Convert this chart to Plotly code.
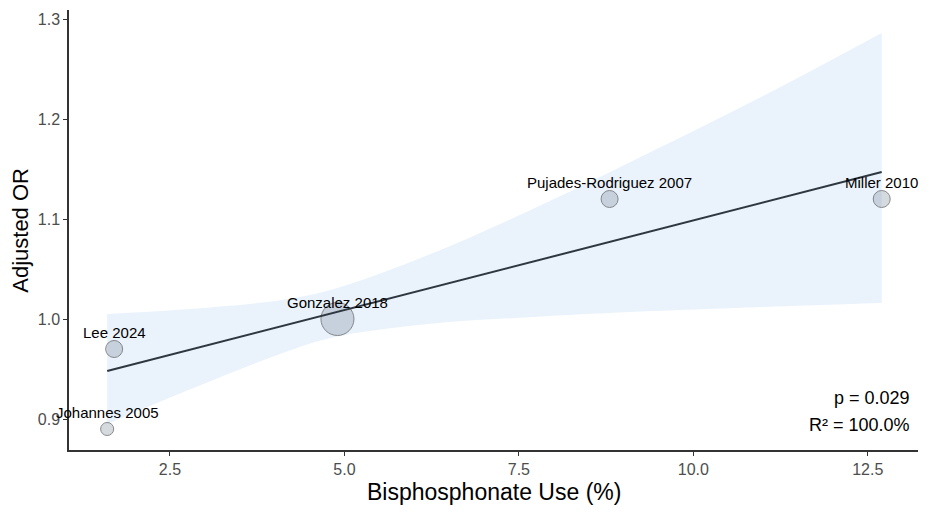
import plotly.graph_objects as go

# Study-level data
studies = ['Johannes 2005', 'Lee 2024', 'Gonzalez 2018', 'Pujades-Rodriguez 2007', 'Miller 2010']
bisphos_use = [1.6, 1.7, 4.9, 8.8, 12.7]
adjusted_or = [0.89, 0.97, 1.00, 1.12, 1.12]
weights = [8.0, 13.6, 51.2, 13.6, 13.6]  # relative study weight (bubble area)

# Meta-regression fit line and 95% band, read at a few x positions
fit_x = [1.6, 12.7]
fit_y = [0.948, 1.147]
band_x = [1.6, 2.8, 4.0, 4.8, 6.2, 7.7, 9.1, 11.0, 12.7]
band_upper = [1.005, 1.010, 1.018, 1.029, 1.064, 1.110, 1.157, 1.223, 1.286]
band_lower = [0.895, 0.930, 0.963, 0.981, 0.995, 1.002, 1.007, 1.012, 1.016]

p_text = 'p = 0.029'
r2_text = 'R² = 100.0%'

font = 'Arial, Liberation Sans, sans-serif'

fig = go.Figure()

# confidence band
fig.add_trace(go.Scatter(x=band_x, y=band_lower, mode='lines', line=dict(width=0, shape='spline'),
                         hoverinfo='skip', showlegend=False))
fig.add_trace(go.Scatter(x=band_x, y=band_upper, mode='lines', line=dict(width=0, shape='spline'),
                         fill='tonexty', fillcolor='#EAF3FC', hoverinfo='skip', showlegend=False))

# bubbles
fig.add_trace(go.Scatter(
    x=bisphos_use, y=adjusted_or, mode='markers', text=studies, showlegend=False,
    marker=dict(size=weights, sizemode='area', sizeref=2 * max(weights) / 33 ** 2,
                color='rgba(115,130,148,0.42)', line=dict(color='#5a5a5a', width=1)),
))

# regression line
fig.add_trace(go.Scatter(x=fit_x, y=fit_y, mode='lines', line=dict(color='#2E3640', width=2),
                         hoverinfo='skip', showlegend=False))

# study labels above each point
for name, x, y in zip(studies, bisphos_use, adjusted_or):
    fig.add_annotation(x=x, y=y, text=name, showarrow=False, yshift=17,
                       font=dict(family=font, size=15, color='black'))

# stats in the lower-right corner
fig.add_annotation(xref='paper', yref='paper', x=0.993, y=0.118, text=p_text, showarrow=False,
                   xanchor='right', yanchor='middle', font=dict(family=font, size=18, color='black'))
fig.add_annotation(xref='paper', yref='paper', x=0.993, y=0.057, text=r2_text, showarrow=False,
                   xanchor='right', yanchor='middle', font=dict(family=font, size=18, color='black'))

# axis titles
fig.add_annotation(xref='paper', yref='paper', x=0.5, y=-0.0955, text='Bisphosphonate Use (%)',
                   showarrow=False, xanchor='center', yanchor='middle',
                   font=dict(family=font, size=23, color='black'))
fig.add_annotation(xref='paper', yref='paper', x=-0.058, y=0.5, text='Adjusted OR', textangle=-90,
                   showarrow=False, xanchor='center', yanchor='middle',
                   font=dict(family=font, size=22, color='black'))

axis_style = dict(showgrid=False, zeroline=False, showline=True, linecolor='#333333', linewidth=1.5,
                  ticks='outside', ticklen=4, tickwidth=1.2, tickcolor='#333333',
                  tickfont=dict(family=font, size=16, color='#4D4D4D'))

# page body adds an 8px offset, so the figure is 8px smaller than the window
fig.update_layout(
    width=927, height=505,
    margin=dict(l=61, r=17, t=2, b=63),
    plot_bgcolor='white', paper_bgcolor='white',
    xaxis=dict(range=[1.053, 13.22], tickvals=[2.5, 5.0, 7.5, 10.0, 12.5],
               ticktext=['2.5', '5.0', '7.5', '10.0', '12.5'], **axis_style),
    yaxis=dict(range=[0.869, 1.309], tickvals=[0.9, 1.0, 1.1, 1.2, 1.3],
               ticktext=['0.9', '1.0', '1.1', '1.2', '1.3'], **axis_style),
)

fig.write_html('out.html', config={'displayModeBar': False})
